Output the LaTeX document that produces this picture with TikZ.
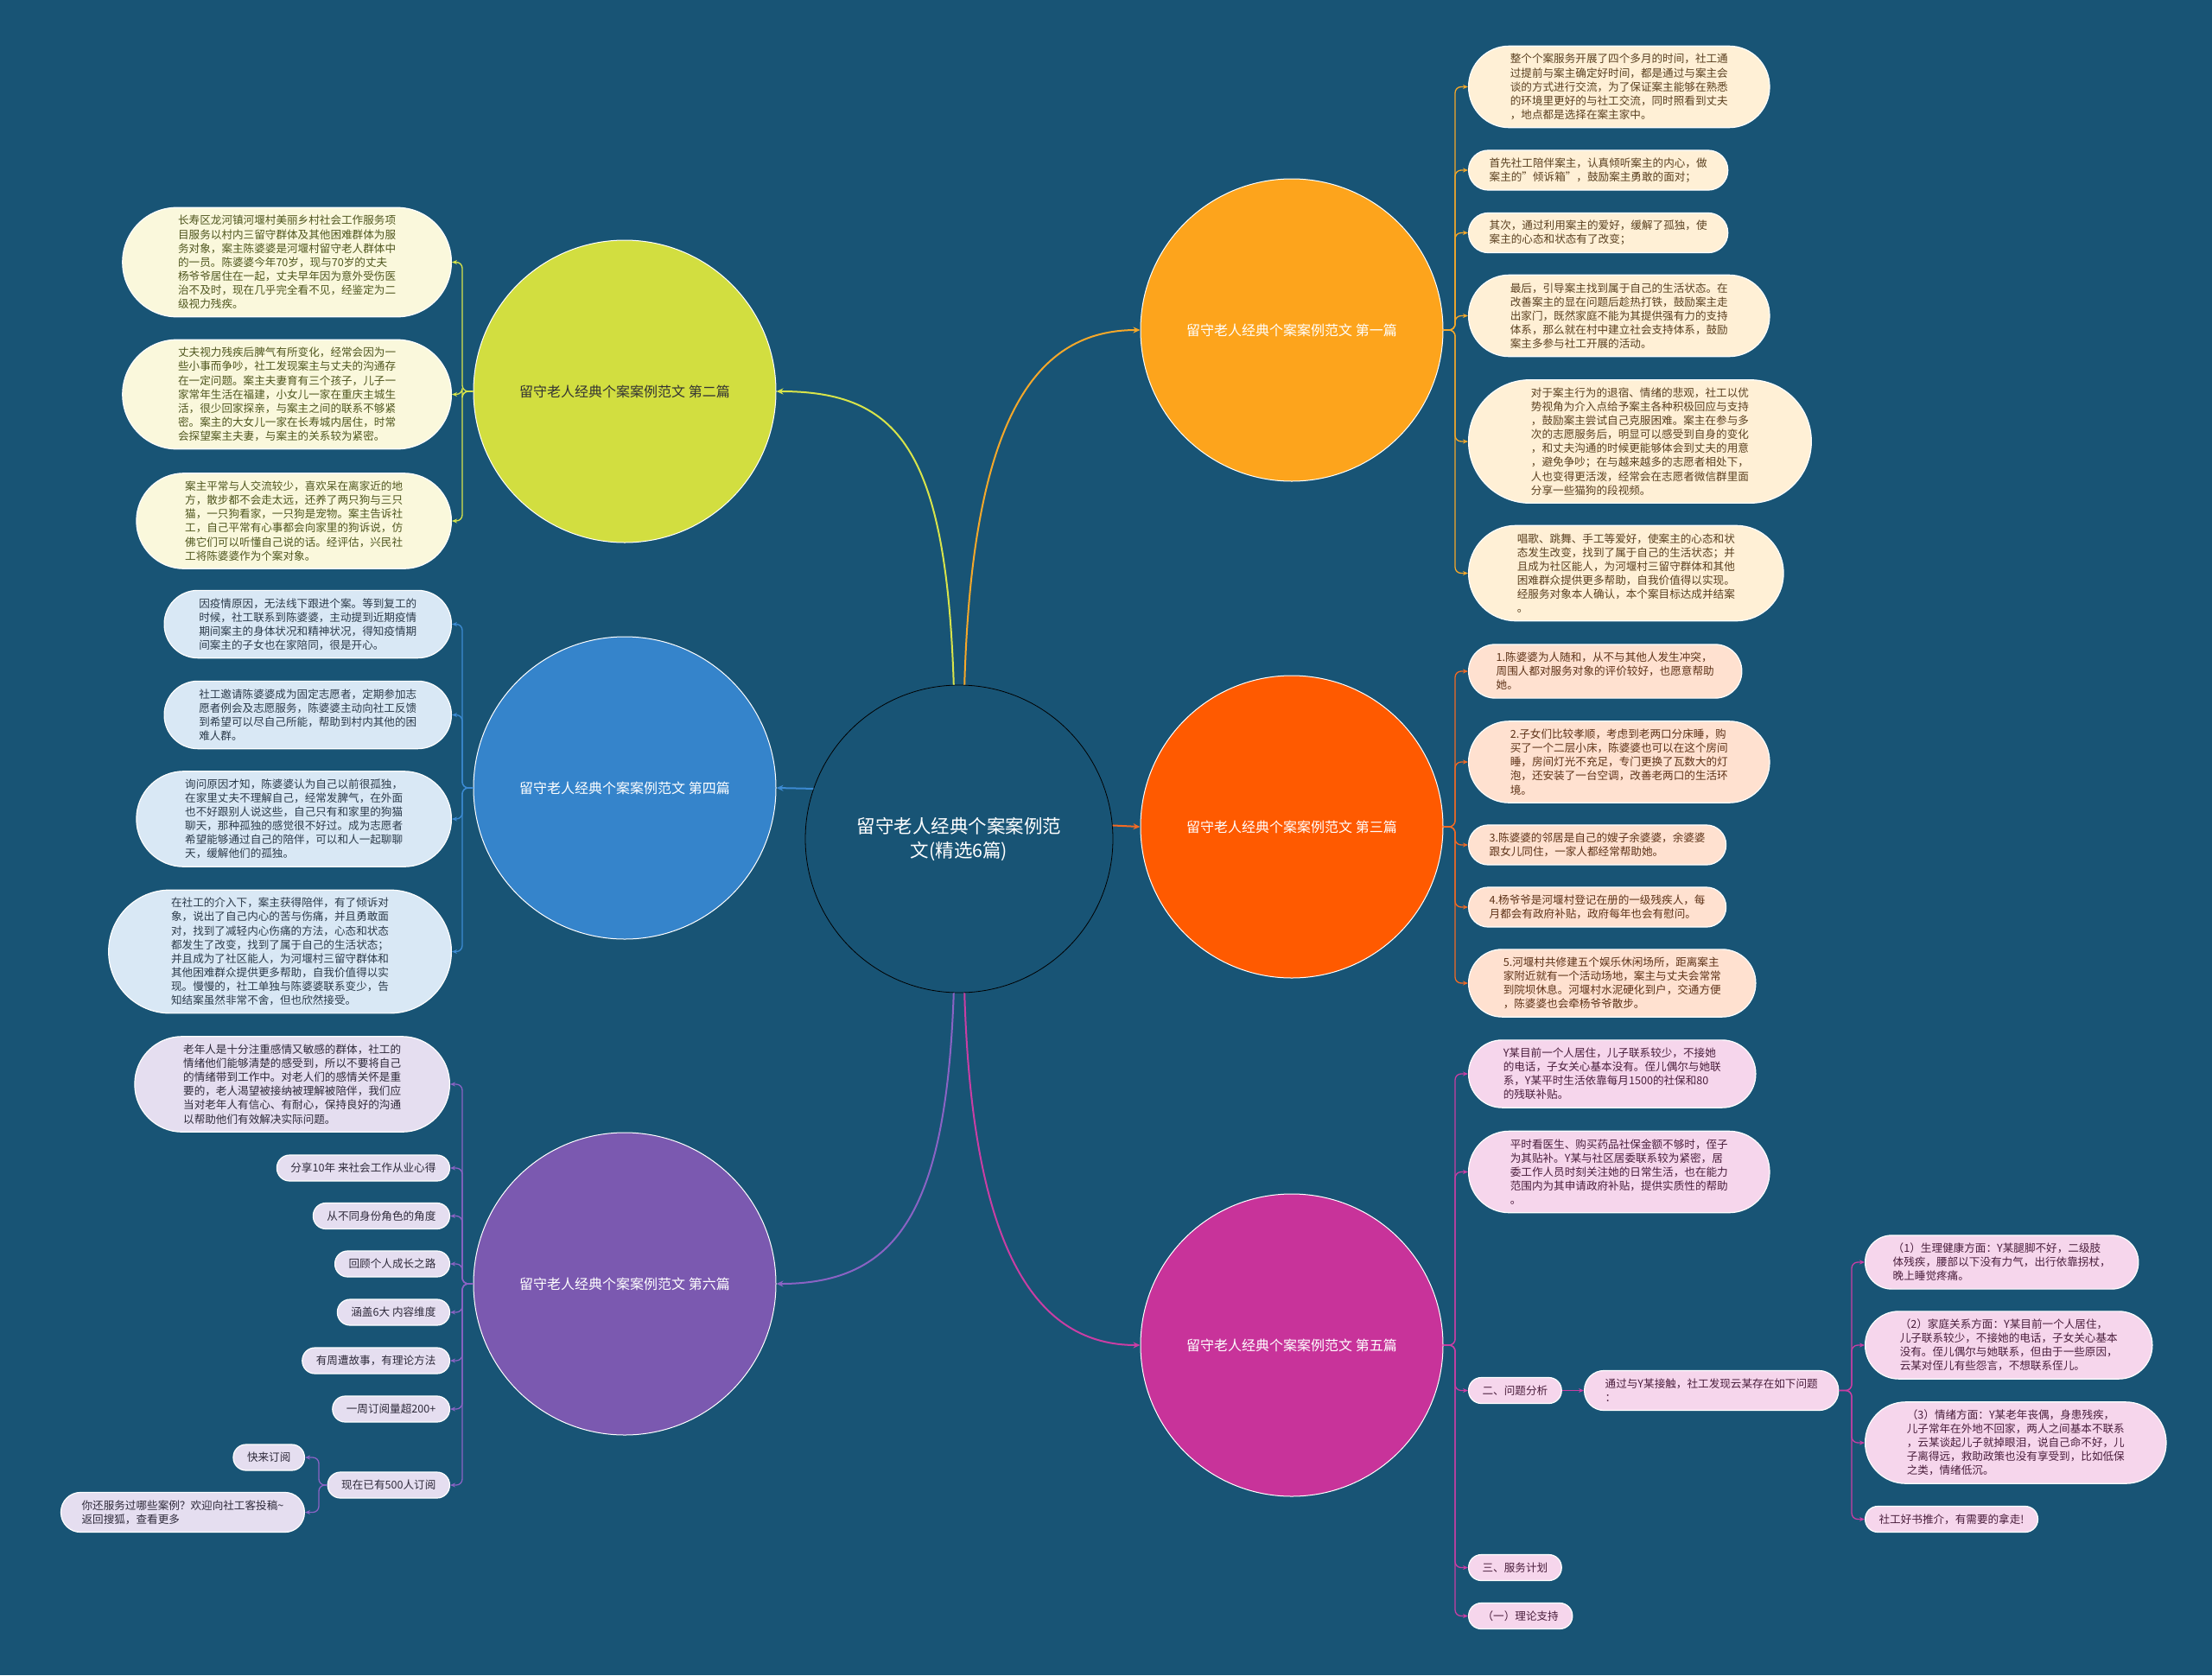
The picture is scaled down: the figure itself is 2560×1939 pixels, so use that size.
\documentclass[tikz,border=0pt]{standalone}
\usepackage{fontspec}
\setmainfont{Noto Sans CJK SC}
\usetikzlibrary{arrows.meta}
\definecolor{bg}{HTML}{185475}
\definecolor{cY}{HTML}{D2DE40}
\definecolor{cB}{HTML}{3584CB}
\definecolor{cP}{HTML}{7B59B0}
\definecolor{cO}{HTML}{FDA41C}
\definecolor{cR}{HTML}{FF5A00}
\definecolor{cM}{HTML}{C8339A}
\definecolor{lY}{HTML}{D8E44A}
\definecolor{lB}{HTML}{3C8AD2}
\definecolor{lP}{HTML}{8A63C4}
\definecolor{lO}{HTML}{F5A82A}
\definecolor{lR}{HTML}{F26A24}
\definecolor{lM}{HTML}{C93EA4}
\definecolor{fY}{HTML}{FAF8DC}
\definecolor{fB}{HTML}{D9E8F5}
\definecolor{fP}{HTML}{E5DEF0}
\definecolor{fO}{HTML}{FFF0D6}
\definecolor{fR}{HTML}{FFE1D0}
\definecolor{fM}{HTML}{F6D6EC}
\definecolor{tY}{HTML}{4F561E}
\definecolor{tB}{HTML}{2B3A4A}
\definecolor{tP}{HTML}{2E2A3A}
\definecolor{tO}{HTML}{5A4020}
\definecolor{tR}{HTML}{5E3318}
\definecolor{tM}{HTML}{4A1E3C}
\newcommand\lff{\fontsize{12.6}{16.1}\selectfont}
\newcommand\cff{\fontsize{16}{20}\selectfont}
\newcommand\hff{\fontsize{21.5}{28}\selectfont}
\tikzset{
  leafbase/.style={rectangle, draw=white, line width=1.2pt, align=left, font=\lff,
    minimum height={(#1-1)*16.1+30}, inner ysep=2pt,
    inner xsep={((#1-1)*16.1+30)/2+1}, rounded corners={((#1-1)*16.1+30)/2-0.3}},
  leafY/.style={leafbase=#1, fill=fY, text=tY},
  leafB/.style={leafbase=#1, fill=fB, text=tB},
  leafP/.style={leafbase=#1, fill=fP, text=tP},
  leafO/.style={leafbase=#1, fill=fO, text=tO},
  leafR/.style={leafbase=#1, fill=fR, text=tR},
  leafM/.style={leafbase=#1, fill=fM, text=tM},
  hub/.style={circle, draw=white, line width=1pt, minimum size=350pt, inner sep=0pt, font=\cff, align=center, text=white},
  brline/.style={line width=1.3pt, rounded corners=7pt, -{Stealth[length=6pt,width=5pt]}},
  mainline/.style={line width=2pt, -{Stealth[length=8pt,width=7pt]}},
}
\begin{document}
\begin{tikzpicture}[x=1pt,y=-1pt]
\fill[bg] (0,0) rectangle (2560,1939);
\useasboundingbox (0,0) rectangle (2560,1939);

% center
\node[circle, draw=black, line width=0.8pt, fill=bg, minimum size=356pt, inner sep=0pt, font=\hff, text=white, align=center] (ctr) at (1110,971) {留守老人经典个案案例范\\文(精选6篇)};

% hubs
\node[hub, fill=cY, text=black!80] (c2) at (723,453) {留守老人经典个案案例范文 第二篇};
\node[hub, fill=cB] (c4) at (723,912) {留守老人经典个案案例范文 第四篇};
\node[hub, fill=cP] (c6) at (723,1486) {留守老人经典个案案例范文 第六篇};
\node[hub, fill=cO] (c1) at (1495,382) {留守老人经典个案案例范文 第一篇};
\node[hub, fill=cR] (c3) at (1495,957) {留守老人经典个案案例范文 第三篇};
\node[hub, fill=cM] (c5) at (1495,1557) {留守老人经典个案案例范文 第五篇};

% main connectors
\draw[mainline, lY] (ctr.92) .. controls (1095,520) and (1040,453) .. (c2.east);
\draw[mainline, lO] (ctr.88) .. controls (1125,480) and (1200,382) .. (c1.west);
\draw[mainline, lB] (ctr.161) -- (c4.east);
\draw[mainline, lR] (ctr.5) -- (c3.west);
\draw[mainline, lP] (ctr.268) .. controls (1095,1400) and (1040,1486) .. (c6.east);
\draw[mainline, lM] (ctr.272) .. controls (1125,1450) and (1200,1557) .. (c5.west);

% ---------- yellow leaves
\node[leafY=7, anchor=east] (y1) at (523,303.5) {长寿区龙河镇河堰村美丽乡村社会工作服务项\\目服务以村内三留守群体及其他困难群体为服\\务对象，案主陈婆婆是河堰村留守老人群体中\\的一员。陈婆婆今年70岁，现与70岁的丈夫\\杨爷爷居住在一起，丈夫早年因为意外受伤医\\治不及时，现在几乎完全看不见，经鉴定为二\\级视力残疾。};
\node[leafY=7, anchor=east] (y2) at (523,456.5) {丈夫视力残疾后脾气有所变化，经常会因为一\\些小事而争吵，社工发现案主与丈夫的沟通存\\在一定问题。案主夫妻育有三个孩子，儿子一\\家常年生活在福建，小女儿一家在重庆主城生\\活，很少回家探亲，与案主之间的联系不够紧\\密。案主的大女儿一家在长寿城内居住，时常\\会探望案主夫妻，与案主的关系较为紧密。};
\node[leafY=6, anchor=east] (y3) at (523,603) {案主平常与人交流较少，喜欢呆在离家近的地\\方，散步都不会走太远，还养了两只狗与三只\\猫，一只狗看家，一只狗是宠物。案主告诉社\\工，自己平常有心事都会向家里的狗诉说，仿\\佛它们可以听懂自己说的话。经评估，兴民社\\工将陈婆婆作为个案对象。};
\foreach \n in {y1,y2,y3}{\draw[brline, lY] (c2.west) -- (535,453) |- (\n.east);}

% ---------- blue leaves
\node[leafB=4, anchor=east] (b1) at (523,722.5) {因疫情原因，无法线下跟进个案。等到复工的\\时候，社工联系到陈婆婆，主动提到近期疫情\\期间案主的身体状况和精神状况，得知疫情期\\间案主的子女也在家陪同，很是开心。};
\node[leafB=4, anchor=east] (b2) at (523,827.5) {社工邀请陈婆婆成为固定志愿者，定期参加志\\愿者例会及志愿服务，陈婆婆主动向社工反馈\\到希望可以尽自己所能，帮助到村内其他的困\\难人群。};
\node[leafB=6, anchor=east] (b3) at (523,948) {询问原因才知，陈婆婆认为自己以前很孤独，\\在家里丈夫不理解自己，经常发脾气，在外面\\也不好跟别人说这些，自己只有和家里的狗猫\\聊天，那种孤独的感觉很不好过。成为志愿者\\希望能够通过自己的陪伴，可以和人一起聊聊\\天，缓解他们的孤独。};
\node[leafB=8, anchor=east] (b4) at (523,1101.5) {在社工的介入下，案主获得陪伴，有了倾诉对\\象，说出了自己内心的苦与伤痛，并且勇敢面\\对，找到了减轻内心伤痛的方法，心态和状态\\都发生了改变，找到了属于自己的生活状态；\\并且成为了社区能人，为河堰村三留守群体和\\其他困难群众提供更多帮助，自我价值得以实\\现。慢慢的，社工单独与陈婆婆联系变少，告\\知结案虽然非常不舍，但也欣然接受。};
\foreach \n in {b1,b2,b3,b4}{\draw[brline, lB] (c4.west) -- (535,912) |- (\n.east);}

% ---------- purple leaves
\node[leafP=6, anchor=east] (p1) at (521,1255) {老年人是十分注重感情又敏感的群体，社工的\\情绪他们能够清楚的感受到，所以不要将自己\\的情绪带到工作中。对老人们的感情关怀是重\\要的，老人渴望被接纳被理解被陪伴，我们应\\当对老年人有信心、有耐心，保持良好的沟通\\以帮助他们有效解决实际问题。};
\node[leafP=1, anchor=east] (p2) at (521,1352) {分享10年 来社会工作从业心得};
\node[leafP=1, anchor=east] (p3) at (521,1407.5) {从不同身份角色的角度};
\node[leafP=1, anchor=east] (p4) at (521,1463) {回顾个人成长之路};
\node[leafP=1, anchor=east] (p5) at (521,1519) {涵盖6大 内容维度};
\node[leafP=1, anchor=east] (p6) at (521,1575) {有周遭故事，有理论方法};
\node[leafP=1, anchor=east] (p7) at (521,1631) {一周订阅量超200+};
\node[leafP=1, anchor=east] (p8) at (521,1719) {现在已有500人订阅};
\foreach \n in {p1,p2,p3,p4,p5,p6,p7,p8}{\draw[brline, lP] (c6.west) -- (535,1486) |- (\n.east);}
\node[leafP=1, anchor=east] (p8a) at (353,1687) {快来订阅};
\node[leafP=2, anchor=east] (p8b) at (353,1750.5) {你还服务过哪些案例？欢迎向社工客投稿\textasciitilde\\返回搜狐，查看更多};
\foreach \n in {p8a,p8b}{\draw[brline, lP] (p8.west) -- (369,1719) |- (\n.east);}

% ---------- orange leaves
\node[leafO=5, anchor=west] (o1) at (1699,100.5) {整个个案服务开展了四个多月的时间，社工通\\过提前与案主确定好时间，都是通过与案主会\\谈的方式进行交流，为了保证案主能够在熟悉\\的环境里更好的与社工交流，同时照看到丈夫\\，地点都是选择在案主家中。};
\node[leafO=2, anchor=west] (o2) at (1699,197) {首先社工陪伴案主，认真倾听案主的内心，做\\案主的"倾诉箱"，鼓励案主勇敢的面对；};
\node[leafO=2, anchor=west] (o3) at (1699,269.5) {其次，通过利用案主的爱好，缓解了孤独，使\\案主的心态和状态有了改变；};
\node[leafO=5, anchor=west] (o4) at (1699,365.5) {最后，引导案主找到属于自己的生活状态。在\\改善案主的显在问题后趁热打铁，鼓励案主走\\出家门，既然家庭不能为其提供强有力的支持\\体系，那么就在村中建立社会支持体系，鼓励\\案主多参与社工开展的活动。};
\node[leafO=8, anchor=west] (o5) at (1699,511) {对于案主行为的退宿、情绪的悲观，社工以优\\势视角为介入点给予案主各种积极回应与支持\\，鼓励案主尝试自己克服困难。案主在参与多\\次的志愿服务后，明显可以感受到自身的变化\\，和丈夫沟通的时候更能够体会到丈夫的用意\\，避免争吵；在与越来越多的志愿者相处下，\\人也变得更活泼，经常会在志愿者微信群里面\\分享一些猫狗的段视频。};
\node[leafO=6, anchor=west] (o6) at (1699,663.5) {唱歌、跳舞、手工等爱好，使案主的心态和状\\态发生改变，找到了属于自己的生活状态；并\\且成为社区能人，为河堰村三留守群体和其他\\困难群众提供更多帮助，自我价值得以实现。\\经服务对象本人确认，本个案目标达成并结案\\。};
\foreach \n in {o1,o2,o3,o4,o5,o6}{\draw[brline, lO] (c1.east) -- (1684,382) |- (\n.west);}

% ---------- orange-red leaves
\node[leafR=3, anchor=west] (r1) at (1699,777) {1.陈婆婆为人随和，从不与其他人发生冲突，\\周围人都对服务对象的评价较好，也愿意帮助\\她。};
\node[leafR=5, anchor=west] (r2) at (1699,882) {2.子女们比较孝顺，考虑到老两口分床睡，购\\买了一个二层小床，陈婆婆也可以在这个房间\\睡，房间灯光不充足，专门更换了瓦数大的灯\\泡，还安装了一台空调，改善老两口的生活环\\境。};
\node[leafR=2, anchor=west] (r3) at (1699,978) {3.陈婆婆的邻居是自己的嫂子余婆婆，余婆婆\\跟女儿同住，一家人都经常帮助她。};
\node[leafR=2, anchor=west] (r4) at (1699,1050) {4.杨爷爷是河堰村登记在册的一级残疾人，每\\月都会有政府补贴，政府每年也会有慰问。};
\node[leafR=4, anchor=west] (r5) at (1699,1138) {5.河堰村共修建五个娱乐休闲场所，距离案主\\家附近就有一个活动场地，案主与丈夫会常常\\到院坝休息。河堰村水泥硬化到户，交通方便\\，陈婆婆也会牵杨爷爷散步。};
\foreach \n in {r1,r2,r3,r4,r5}{\draw[brline, lR] (c3.east) -- (1684,957) |- (\n.west);}

% ---------- magenta leaves
\node[leafM=4, anchor=west] (m1) at (1699,1243) {Y某目前一个人居住，儿子联系较少，不接她\\的电话，子女关心基本没有。侄儿偶尔与她联\\系，Y某平时生活依靠每月1500的社保和80\\的残联补贴。};
\node[leafM=5, anchor=west] (m2) at (1699,1356.5) {平时看医生、购买药品社保金额不够时，侄子\\为其贴补。Y某与社区居委联系较为紧密，居\\委工作人员时刻关注她的日常生活，也在能力\\范围内为其申请政府补贴，提供实质性的帮助\\。};
\node[leafM=1, anchor=west] (m3) at (1699,1609.5) {二、问题分析};
\node[leafM=1, anchor=west] (m4) at (1699,1814.5) {三、服务计划};
\node[leafM=1, anchor=west] (m5) at (1699,1870.5) {（一）理论支持};
\foreach \n in {m1,m2,m3,m4,m5}{\draw[brline, lM] (c5.east) -- (1684,1557) |- (\n.west);}
\node[leafM=2, anchor=west] (m3a) at (1833,1609.5) {通过与Y某接触，社工发现云某存在如下问题\\：};
\draw[brline, lM] (m3.east) -- (m3a.west);
\node[leafM=3, anchor=west] (q1) at (2158,1461) {（1）生理健康方面：Y某腿脚不好，二级肢\\体残疾，腰部以下没有力气，出行依靠拐杖，\\晚上睡觉疼痛。};
\node[leafM=4, anchor=west] (q2) at (2158,1557) {（2）家庭关系方面：Y某目前一个人居住，\\儿子联系较少，不接她的电话，子女关心基本\\没有。侄儿偶尔与她联系，但由于一些原因，\\云某对侄儿有些怨言，不想联系侄儿。};
\node[leafM=5, anchor=west] (q3) at (2158,1670) {（3）情绪方面：Y某老年丧偶，身患残疾，\\儿子常年在外地不回家，两人之间基本不联系\\，云某谈起儿子就掉眼泪，说自己命不好，儿\\子离得远，救助政策也没有享受到，比如低保\\之类，情绪低沉。};
\node[leafM=1, anchor=west] (q4) at (2158,1758.5) {社工好书推介，有需要的拿走!};
\foreach \n in {q1,q2,q3,q4}{\draw[brline, lM] (m3a.east) -- (2143,1609.5) |- (\n.west);}
\end{tikzpicture}
\end{document}
